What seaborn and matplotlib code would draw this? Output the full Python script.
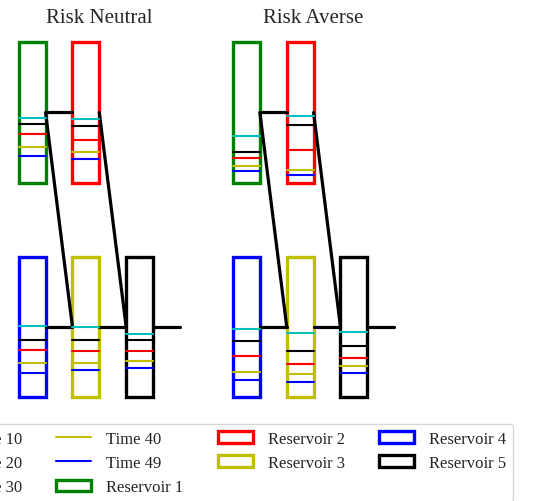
import matplotlib

matplotlib.use("Agg")
import matplotlib.pyplot as plt
import pandas as pd
import seaborn as sns
from matplotlib.lines import Line2D
from matplotlib.patches import Patch, Rectangle

TIMES = ["Time 10", "Time 20", "Time 30", "Time 40", "Time 49"]
TIME_COLORS = ["c", "k", "r", "y", "b"]
RESERVOIRS = ["Reservoir 1", "Reservoir 2", "Reservoir 3", "Reservoir 4", "Reservoir 5"]
RES_COLORS = ["g", "r", "y", "b", "k"]
PANELS = ["Risk Neutral", "Risk Averse"]

# storage levels as a fraction of capacity, one value per time in TIMES
NEUTRAL_R1 = [0.459, 0.418, 0.344, 0.256, 0.186]
NEUTRAL_R2 = [0.457, 0.404, 0.303, 0.215, 0.165]
NEUTRAL_R3 = [0.501, 0.402, 0.326, 0.244, 0.189]
NEUTRAL_R4 = [0.506, 0.407, 0.333, 0.239, 0.166]
NEUTRAL_R5 = [0.450, 0.402, 0.324, 0.253, 0.204]

AVERSE_R1 = [0.332, 0.220, 0.174, 0.120, 0.079]
AVERSE_R2 = [0.475, 0.409, 0.234, 0.091, 0.055]
AVERSE_R3 = [0.457, 0.324, 0.232, 0.161, 0.104]
AVERSE_R4 = [0.482, 0.397, 0.294, 0.180, 0.121]
AVERSE_R5 = [0.464, 0.362, 0.277, 0.218, 0.170]

LEVELS = {
    "Risk Neutral": [NEUTRAL_R1, NEUTRAL_R2, NEUTRAL_R3, NEUTRAL_R4, NEUTRAL_R5],
    "Risk Averse": [AVERSE_R1, AVERSE_R2, AVERSE_R3, AVERSE_R4, AVERSE_R5],
}

# layout of the network: (column, row base) for each reservoir
TOP = 1.53
GRID = [(0, TOP), (2, TOP), (2, 0.0), (0, 0.0), (4, 0.0)]
LINKS = [
    ((1, TOP + 0.5), (2, TOP + 0.5)),
    ((1, TOP + 0.5), (2, 0.5)),
    ((3, TOP + 0.5), (4, 0.5)),
    ((1, 0.5), (2, 0.5)),
    ((3, 0.5), (4, 0.5)),
    ((5, 0.5), (6, 0.5)),
]


def level_frame(levels: list) -> pd.DataFrame:
    rows = []
    for (col, base), res, vals in zip(GRID, RESERVOIRS, levels):
        for t, v in zip(TIMES, vals):
            for x in (col, col + 1):
                rows.append({"x": x, "y": base + v, "time": t, "seg": f"{res}-{t}"})
    return pd.DataFrame(rows)


def draw_panel(ax, name: str) -> None:
    for (col, base), color in zip(GRID, RES_COLORS):
        ax.add_patch(Rectangle((col, base), 1, 1, fill=False, edgecolor=color, lw=2.4, zorder=1))
    for (x0, y0), (x1, y1) in LINKS:
        ax.plot([x0, x1], [y0, y1], color="k", lw=2.3, zorder=1.5)
    sns.lineplot(
        data=level_frame(LEVELS[name]),
        x="x",
        y="y",
        hue="time",
        hue_order=TIMES,
        palette=dict(zip(TIMES, TIME_COLORS)),
        units="seg",
        estimator=None,
        sort=False,
        legend=False,
        linewidth=1.5,
        ax=ax,
    )
    ax.set_xlim(-0.6, 6.6)
    ax.set_ylim(-0.05, 2.62)
    ax.set_title(name, fontsize=15)
    ax.set_axis_off()


def main() -> None:
    sns.set_style("white")
    plt.rcParams["font.family"] = ["Liberation Serif", "DejaVu Serif"]

    W, H = 537, 502
    fig = plt.figure(figsize=(W / 100, H / 100), dpi=100)
    ux, uy = 26.86, 140.0
    for name, x0px in zip(PANELS, [18.7, 233.0]):
        left = x0px - 0.6 * ux
        bottom = H - (397.7 + 0.05 * uy)
        ax = fig.add_axes([left / W, bottom / H, 7.2 * ux / W, 2.67 * uy / H])
        draw_panel(ax, name)

    handles = [Line2D([], [], color=c, lw=1.5) for c in TIME_COLORS]
    handles += [Patch(facecolor="white", edgecolor=c, lw=2.4) for c in RES_COLORS]
    fig.legend(
        handles,
        TIMES + RESERVOIRS,
        ncol=4,
        loc="upper right",
        bbox_to_anchor=(512.7 / W, 1 - 425 / H),
        borderaxespad=0,
        fontsize=12,
        handlelength=2.1,
        handletextpad=0.9,
        columnspacing=2.05,
    )
    fig.savefig("out.png", dpi=100)
    plt.close(fig)


if __name__ == "__main__":
    main()
